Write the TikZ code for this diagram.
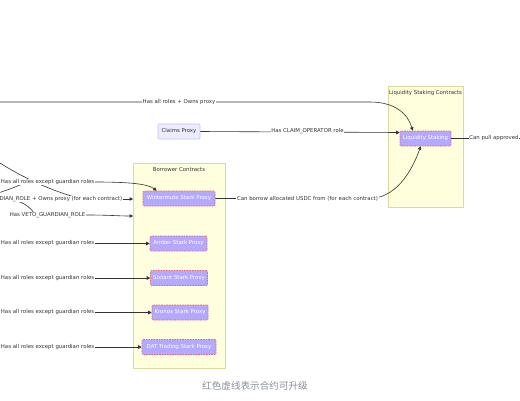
\documentclass[tikz,border=0pt]{standalone}
\usepackage{fontspec}
\setmainfont{DejaVu Sans}
\newfontfamily\cjkfont{Noto Sans CJK SC}
\usetikzlibrary{arrows.meta,calc}
\definecolor{edgec}{HTML}{333333}
\definecolor{clfill}{HTML}{FFFFDE}
\definecolor{cldraw}{HTML}{DADA9C}
\definecolor{nfill}{HTML}{ECECFF}
\definecolor{ndraw}{HTML}{C9BDF2}
\definecolor{ufill}{HTML}{B5A9FF}
\definecolor{udraw}{HTML}{E2637C}
\definecolor{lbl}{HTML}{333333}
\definecolor{notec}{HTML}{8A909A}
\tikzset{
  edge/.style={draw=edgec, line width=0.6pt, -{Triangle[length=3.5pt,width=3.5pt]}},
  plainedge/.style={draw=edgec, line width=0.6pt},
  elabel/.style={fill=white, text=lbl, font=\fontsize{5.4}{6}\selectfont, inner sep=0.6pt},
  cluster/.style={draw=cldraw, fill=clfill, line width=0.5pt, inner sep=0},
  ctitle/.style={text=lbl, font=\fontsize{5.4}{6}\selectfont, inner sep=0},
  plainnode/.style={draw=ndraw, fill=nfill, text=lbl, line width=0.6pt, font=\fontsize{5.4}{6}\selectfont, minimum height=15pt, inner sep=0, rounded corners=1pt},
  upnode/.style={draw=udraw, fill=ufill, line width=0.6pt, dash pattern=on 1.6pt off 1pt, text=white, font=\fontsize{5.4}{6}\selectfont, minimum height=15pt, inner sep=0, rounded corners=1pt},
}
\begin{document}
\begin{tikzpicture}[x=1pt,y=-1pt]
\useasboundingbox (0,0) rectangle (520,400);
\fill[white] (0,0) rectangle (520,400);
\clip (0,0) rectangle (520,400);
% clusters
\node[cluster, anchor=north west, minimum width=92pt, minimum height=205pt] (borrower) at (133,163) {};
\node[ctitle] (borrowertitle) at (179,170) {Borrower Contracts};
\node[cluster, anchor=north west, minimum width=75pt, minimum height=121pt] (lsc) at (388,86) {};
\node[ctitle] (lsctitle) at (425.5,93) {Liquidity Staking Contracts};
% nodes
\node[plainnode, minimum width=42pt] (claims) at (179,131.5) {Claims Proxy};
\node[upnode, minimum width=51pt] (ls) at (425.5,138.5) {Liquidity Staking};
\node[upnode, minimum width=72pt] (wm) at (179,198.5) {Wintermute Stark Proxy};
\node[upnode, minimum width=57pt] (amber) at (178.5,243.5) {Amber Stark Proxy};
\node[upnode, minimum width=57pt] (sixtant) at (179,278) {Sixtant Stark Proxy};
\node[upnode, minimum width=56pt] (kronos) at (180,312.5) {Kronos Stark Proxy};
\node[upnode, minimum width=74pt] (dat) at (179,347) {DAT Trading Stark Proxy};
% free ends
\coordinate (srcTop) at (-5,102);
\coordinate (srcA) at (-5,160);
\coordinate (srcB) at (-5,194);
\coordinate (srcC) at (-5,197);
\coordinate (srcAm) at (-5,243.5);
\coordinate (srcSi) at (-5,278);
\coordinate (srcKr) at (-5,312.5);
\coordinate (srcDa) at (-5,347);
\coordinate (outR) at (530,138.5);
% edges
\draw[edge] (srcTop) -- (370,102) .. controls (395,102) and (408,114) .. ($(ls.north west)+(13,0)$);
\draw[edge] (claims.east) -- ($(ls.west)+(0,-6)$);
\draw[plainedge] (ls.east) -- (outR);
\draw[edge] (wm.east) -- (372,198.5) .. controls (400,196) and (414,165) .. ($(ls.south west)+(21,0)$);
\draw[plainedge] (srcA) .. controls (25,179) and (50,190) .. (78,198);
\draw[plainedge] (srcB) .. controls (8,190) and (15,187) .. (25,183);
\draw[plainedge] (srcC) .. controls (18,199) and (28,204) .. (34,213);
\draw[edge] (srcAm) -- (amber.west);
\draw[edge] (srcSi) -- (sixtant.west);
\draw[edge] (srcKr) -- (kronos.west);
\draw[edge] (srcDa) -- (dat.west);
% labels
\node[elabel] (lTop) at (179,102) {Has all roles + Owns proxy};
\node[elabel] (lClaim) at (307.5,131.5) {Has CLAIM\_OPERATOR role};
\node[elabel, anchor=west] (lPull) at (468.5,138.5) {Can pull approved};
\node[elabel] (lBorrow) at (307.5,198.5) {Can borrow allocated USDC from (for each contract)};
\node[elabel, anchor=east] (l1) at (95,182) {Has all roles except guardian roles};
\node[elabel, anchor=east] (l2) at (123,199) {DIAN\_ROLE + Owns proxy (for each contract)};
\node[elabel] (l3) at (47.5,215) {Has VETO\_GUARDIAN\_ROLE};
\node[elabel, anchor=east] (lAm) at (95,243.5) {Has all roles except guardian roles};
\node[elabel, anchor=east] (lSi) at (95,278) {Has all roles except guardian roles};
\node[elabel, anchor=east] (lKr) at (95,312.5) {Has all roles except guardian roles};
\node[elabel, anchor=east] (lDa) at (95,347) {Has all roles except guardian roles};
\draw[edge] (l1.east) .. controls (130,182) and (148,184) .. ($(wm.north west)+(14,0)$);
\draw[edge] (l2.east) -- (borrower.west |- l2.east);
\draw[edge] (l3.east) .. controls (110,215) and (118,216) .. (borrower.west |- 0,216);
% note
\node[font=\cjkfont\fontsize{9.6}{11}\selectfont, text=notec] (note) at (255,386) {红色虚线表示合约可升级};
\end{tikzpicture}
\end{document}
